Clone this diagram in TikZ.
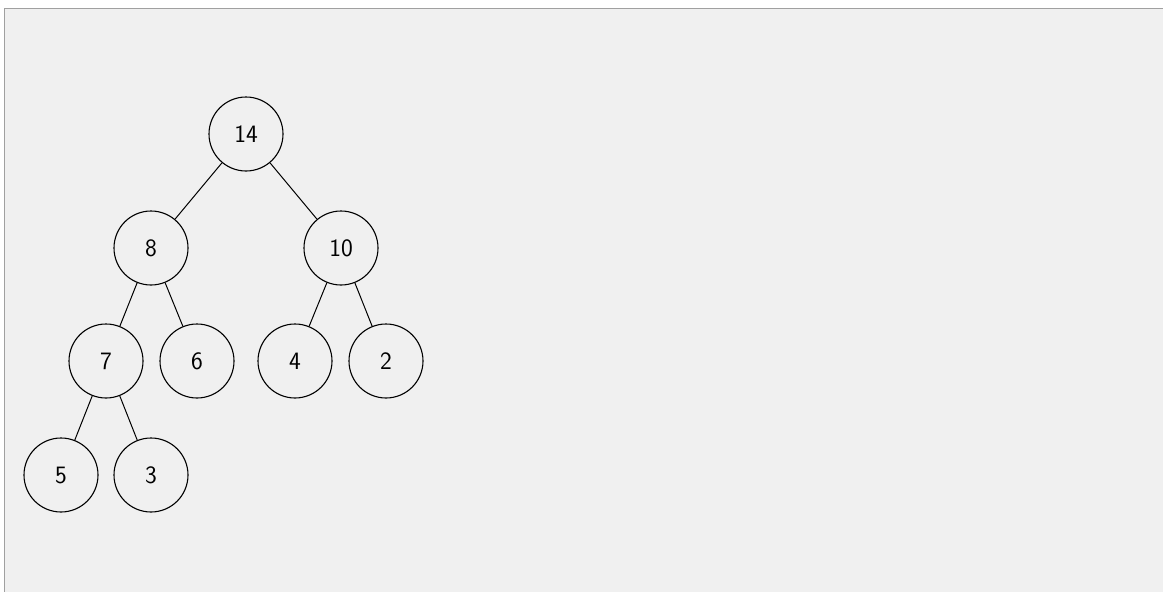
\documentclass[tikz,border=0pt]{standalone}
\usepackage{fontspec}
\begin{document}
\begin{tikzpicture}[x=1pt,y=-1pt,
  tn/.style={circle,draw=black,line width=1.1pt,minimum size=74pt,inner sep=0pt,font=\sffamily\fontsize{25}{30}\selectfont},
  ed/.style={draw=black,line width=1pt}]
\useasboundingbox (0,0) rectangle (1163,592);
\fill[white] (0,0) rectangle (1163,592);
\fill[fill={rgb,255:red,240;green,240;blue,240}] (4,8) rectangle (1163,592);
\draw[line width=1.2pt,color={rgb,255:red,160;green,160;blue,160}] (4.5,592) -- (4.5,8.5) -- (1163,8.5);
\node[tn] (n14) at (246,134) {14};
\node[tn] (n8) at (151,248) {8};
\node[tn] (n10) at (341,248) {10};
\node[tn] (n7) at (106,361) {7};
\node[tn] (n6) at (197,361) {6};
\node[tn] (n4) at (295,361) {4};
\node[tn] (n2) at (386,361) {2};
\node[tn] (n5) at (61,475) {5};
\node[tn] (n3) at (151,475) {3};
\draw[ed] (n14) -- (n8);
\draw[ed] (n14) -- (n10);
\draw[ed] (n8) -- (n7);
\draw[ed] (n8) -- (n6);
\draw[ed] (n10) -- (n4);
\draw[ed] (n10) -- (n2);
\draw[ed] (n7) -- (n5);
\draw[ed] (n7) -- (n3);
\end{tikzpicture}
\end{document}
